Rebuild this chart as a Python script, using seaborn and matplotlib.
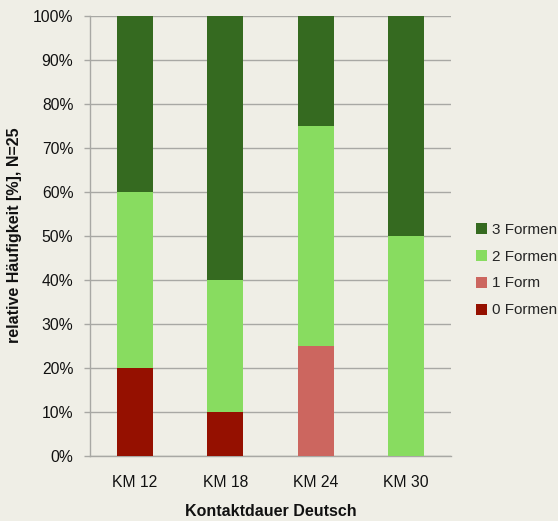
import numpy as np
import pandas as pd
import matplotlib
matplotlib.use("Agg")
import matplotlib.pyplot as plt
from matplotlib.patches import Patch
import seaborn as sns

# Share of children per number of forms used, by contact duration
categories = ["KM 12", "KM 18", "KM 24", "KM 30"]
forms_0 = [20, 10, 0, 0]
forms_1 = [0, 0, 25, 0]
forms_2 = [40, 30, 50, 50]
forms_3 = [40, 60, 25, 50]
series_names = ["0 Formen", "1 Form", "2 Formen", "3 Formen"]
series_colors = ["#951000", "#cc665f", "#88dc60", "#356a20"]
y_ticks = list(range(0, 101, 10))

bg = "#efeee6"
sns.set_theme(style="white")
plt.rcParams["font.family"] = ["Liberation Sans", "DejaVu Sans"]

fig = plt.figure(figsize=(5.58, 5.21), dpi=100, facecolor=bg)
ax = fig.add_axes([90 / 558, 1 - 456 / 521, 361 / 558, 440 / 521], facecolor=bg)

# Stacked bars: draw cumulative totals from the top segment downwards
series = [forms_0, forms_1, forms_2, forms_3]
cum = np.cumsum(np.array(series), axis=0)
for i in range(len(series) - 1, -1, -1):
    df = pd.DataFrame({"cat": categories, "val": cum[i]})
    sns.barplot(data=df, x="cat", y="val", color=series_colors[i],
                saturation=1, width=0.4, ax=ax, zorder=3, linewidth=0)

ax.set_ylim(0, 100)
ax.set_xlim(-0.5, 3.5)
ax.set_yticks(y_ticks)
ax.set_yticklabels([f"{t}%" for t in y_ticks], fontsize=11.3, color="#111111")
ax.yaxis.grid(True, color="#a8a8a4", linewidth=1, zorder=0)
ax.set_axisbelow(True)

ax.set_xticks(range(len(categories)))
ax.set_xticklabels(categories, fontsize=11.3, color="#111111")
ax.set_xticks(np.arange(-0.5, 4, 1), minor=True)
ax.tick_params(axis="x", which="major", length=0, pad=14)
ax.tick_params(axis="x", which="minor", length=5, width=1, color="#a8a8a4", direction="out")
ax.tick_params(axis="y", length=4, width=1, color="#a8a8a4", direction="out", pad=8, left=True)

for s in ["top", "right"]:
    ax.spines[s].set_visible(False)
for s in ["left", "bottom"]:
    ax.spines[s].set_color("#a8a8a4")
    ax.spines[s].set_linewidth(1)

ax.set_xlabel("Kontaktdauer Deutsch", fontsize=11.5, fontweight="bold", color="#111111")
ax.set_ylabel("relative Häufigkeit [%], N=25", fontsize=11.5, fontweight="bold", color="#111111")
ax.xaxis.set_label_coords(0.5, -(512 - 456) / 440, transform=ax.transAxes)
ax.xaxis.label.set_va("center")
ax.yaxis.set_label_coords(-(90 - 15) / 361, (456 - 235) / 440, transform=ax.transAxes)
ax.yaxis.label.set_va("center")

handles = [Patch(facecolor=c, edgecolor="none") for c in series_colors][::-1]
labels = series_names[::-1]
fig.legend(handles, labels, loc="center left", bbox_to_anchor=(476 / 558, 1 - 270 / 521),
           frameon=False, fontsize=11, handlelength=0.72, handleheight=0.72,
           handletextpad=0.3, labelspacing=0.85, borderpad=0, borderaxespad=0)

fig.savefig("out.png", dpi=100, facecolor=bg)
